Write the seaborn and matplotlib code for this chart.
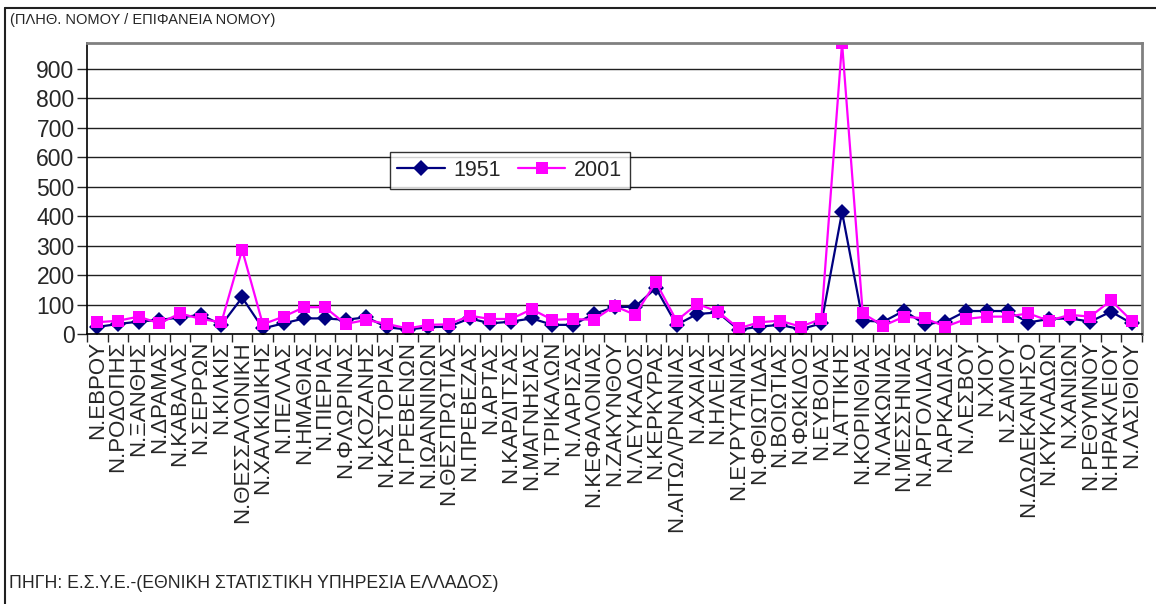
import numpy as np
import pandas as pd
import matplotlib
matplotlib.use('Agg')
import matplotlib.pyplot as plt
import seaborn as sns

# Prefecture names (x axis categories)
prefectures = [
    'Ν.ΕΒΡΟΥ', 'Ν.ΡΟΔΟΠΗΣ', 'Ν.ΞΑΝΘΗΣ', 'Ν.ΔΡΑΜΑΣ', 'Ν.ΚΑΒΑΛΑΣ', 'Ν.ΣΕΡΡΩΝ',
    'Ν.ΚΙΛΚΙΣ', 'Ν.ΘΕΣΣΑΛΟΝΙΚΗ', 'Ν.ΧΑΛΚΙΔΙΚΗΣ', 'Ν.ΠΕΛΛΑΣ', 'Ν.ΗΜΑΘΙΑΣ',
    'Ν.ΠΙΕΡΙΑΣ', 'Ν.ΦΛΩΡΙΝΑΣ', 'Ν.ΚΟΖΑΝΗΣ', 'Ν.ΚΑΣΤΟΡΙΑΣ', 'Ν.ΓΡΕΒΕΝΩΝ',
    'Ν.ΙΩΑΝΝΙΝΩΝ', 'Ν.ΘΕΣΠΡΩΤΙΑΣ', 'Ν.ΠΡΕΒΕΖΑΣ', 'Ν.ΑΡΤΑΣ', 'Ν.ΚΑΡΔΙΤΣΑΣ',
    'Ν.ΜΑΓΝΗΣΙΑΣ', 'Ν.ΤΡΙΚΑΛΩΝ', 'Ν.ΛΑΡΙΣΑΣ', 'Ν.ΚΕΦΑΛΟΝΙΑΣ', 'Ν.ΖΑΚΥΝΘΟΥ',
    'Ν.ΛΕΥΚΑΔΟΣ', 'Ν.ΚΕΡΚΥΡΑΣ', 'Ν.ΑΙΤΩΛ/ΡΝΑΝΙΑΣ', 'Ν.ΑΧΑΙΑΣ', 'Ν.ΗΛΕΙΑΣ',
    'Ν.ΕΥΡΥΤΑΝΙΑΣ', 'Ν.ΦΘΙΩΤΙΔΑΣ', 'Ν.ΒΟΙΩΤΙΑΣ', 'Ν.ΦΩΚΙΔΟΣ', 'Ν.ΕΥΒΟΙΑΣ',
    'Ν.ΑΤΤΙΚΗΣ', 'Ν.ΚΟΡΙΝΘΙΑΣ', 'Ν.ΛΑΚΩΝΙΑΣ', 'Ν.ΜΕΣΣΗΝΙΑΣ', 'Ν.ΑΡΓΟΛΙΔΑΣ',
    'Ν.ΑΡΚΑΔΙΑΣ', 'Ν.ΛΕΣΒΟΥ', 'Ν.ΧΙΟΥ', 'Ν.ΣΑΜΟΥ', 'Ν.ΔΩΔΕΚΑΝΗΣΟ',
    'Ν.ΚΥΚΛΑΔΩΝ', 'Ν.ΧΑΝΙΩΝ', 'Ν.ΡΕΘΥΜΝΟΥ', 'Ν.ΗΡΑΚΛΕΙΟΥ', 'Ν.ΛΑΣΙΘΙΟΥ',
]

# Population density (inhabitants / km2)
density_1951 = [
    24, 34, 42, 48, 56, 65, 31, 124, 19, 36, 53, 53, 48, 57, 23, 15, 23,
    25, 53, 36, 42, 53, 31, 31, 68, 91, 93, 156, 31, 68, 73, 14, 25, 31,
    16, 36, 414, 45, 42, 79, 33, 42, 78, 78, 78, 39, 51, 53, 42, 76, 36,
]
density_2001 = [
    40, 45, 59, 36, 70, 51, 40, 286, 33, 59, 91, 91, 34, 48, 34, 19, 31,
    33, 62, 51, 51, 84, 48, 51, 48, 95, 65, 176, 45, 102, 76, 19, 40, 45,
    25, 51, 988, 70, 28, 59, 53, 25, 51, 59, 59, 70, 45, 65, 59, 114, 45,
]
years = ['1951', '2001']

n = len(prefectures)
df = pd.DataFrame({
    'pos': list(range(n)) * 2,
    'value': density_1951 + density_2001,
    'year': [years[0]] * n + [years[1]] * n,
})

sns.set_style('white')
plt.rcParams['font.family'] = ['Liberation Sans', 'DejaVu Sans']

fig = plt.figure(figsize=(11.56, 6.04), dpi=100)
ax = fig.add_axes([87 / 1156, 1 - 334 / 604, (1142 - 87) / 1156, (334 - 43) / 604])

sns.lineplot(data=df, x='pos', y='value', hue='year', style='year',
             palette={'1951': '#000080', '2001': '#FF00FF'},
             markers={'1951': 'D', '2001': 's'}, dashes=False,
             markersize=8.5, markeredgewidth=0, linewidth=1.6, ax=ax)

# axes ranges and ticks (Excel-like category axis)
ax.set_xlim(-0.5, n - 0.5)
ax.set_ylim(0, 988)
ax.set_yticks(range(0, 1000, 100))
ax.tick_params(axis='y', labelsize=16.5, length=7, width=1, direction='out', left=True, pad=2)
ax.set_xticks(np.arange(n + 1) - 0.5)
ax.set_xticklabels([])
ax.set_xticks(range(n), minor=True)
ax.set_xticklabels(prefectures, minor=True, rotation=90, fontsize=16)
ax.tick_params(axis='x', which='major', length=6, width=1, direction='out', bottom=True)
ax.tick_params(axis='x', which='minor', length=0, pad=5)
ax.set_xlabel('')
ax.set_ylabel('')

ax.yaxis.grid(True, color='#202020', linewidth=1)
ax.set_axisbelow(True)
for side in ['left', 'bottom']:
    ax.spines[side].set_color('black')
    ax.spines[side].set_linewidth(1.2)
for side in ['top', 'right']:
    ax.spines[side].set_color('#808080')
    ax.spines[side].set_linewidth(2)

leg = ax.legend(loc='lower left', bbox_to_anchor=(0.287, 0.50), ncol=2,
                fontsize=15.5, frameon=True, fancybox=False, edgecolor='black',
                handlelength=2.2, handletextpad=0.4, columnspacing=0.8,
                borderpad=0.35, borderaxespad=0)
leg.get_title().set_visible(False)
leg.get_frame().set_linewidth(1)

# title / source text and the chart frame
fig.text(10 / 1156, 1 - 20 / 604, '(ΠΛΗΘ. ΝΟΜΟΥ / ΕΠΙΦΑΝΕΙΑ ΝΟΜΟΥ)', fontsize=10.5, va='center')
fig.text(9 / 1156, 1 - 583 / 604, 'ΠΗΓΗ: Ε.Σ.Υ.Ε.-(ΕΘΝΙΚΗ ΣΤΑΤΙΣΤΙΚΗ ΥΠΗΡΕΣΙΑ ΕΛΛΑΔΟΣ)', fontsize=12.7, va='center')
fig.add_artist(plt.Line2D([5 / 1156, 1], [1 - 8 / 604] * 2, color='#202020', linewidth=1.5))
fig.add_artist(plt.Line2D([5 / 1156] * 2, [0, 1 - 8 / 604], color='#202020', linewidth=1.5))

fig.savefig('out.png', dpi=100)
